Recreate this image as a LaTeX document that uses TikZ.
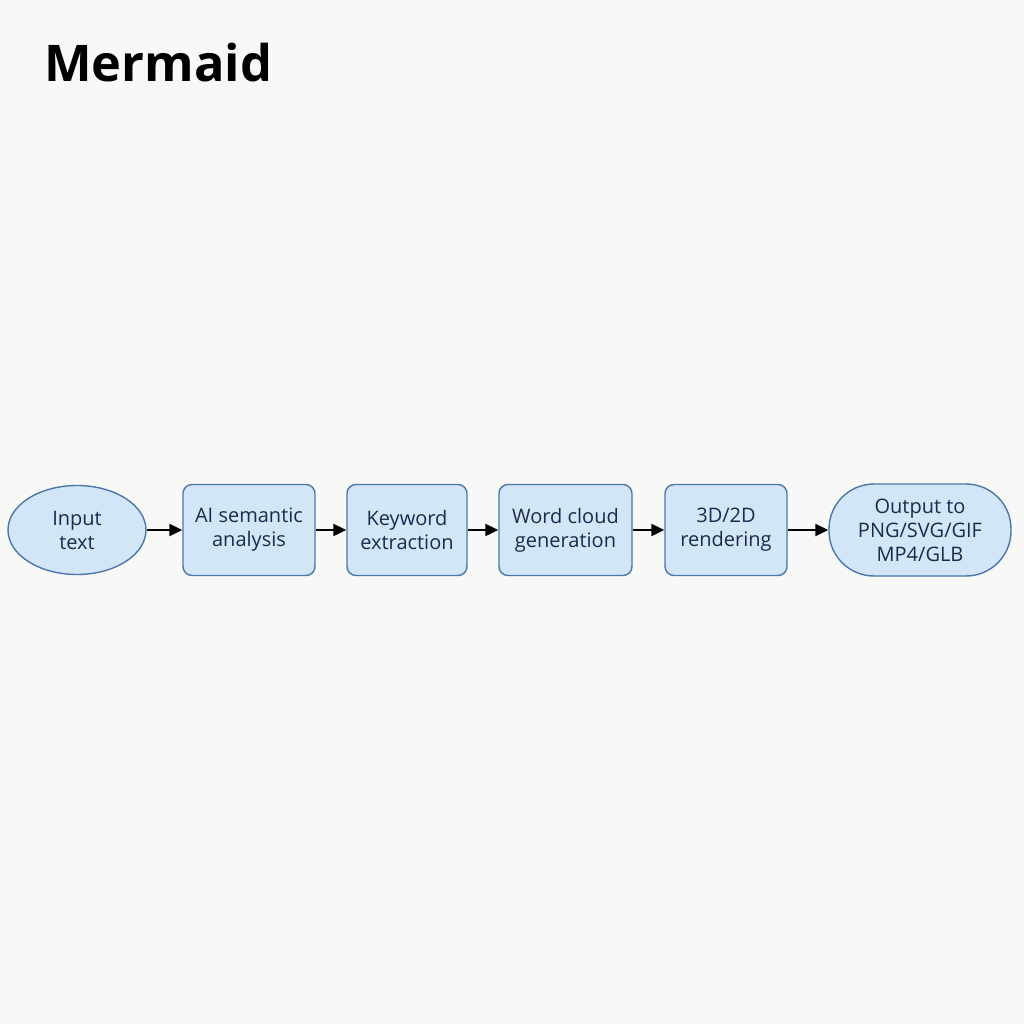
\documentclass[tikz,border=0pt]{standalone}
\usepackage{fontspec}
\setmainfont{Open Sans}
\usetikzlibrary{shapes.geometric,arrows.meta}
\definecolor{bg}{HTML}{F8F8F6}
\definecolor{boxfill}{HTML}{D3E6F7}
\definecolor{boxline}{HTML}{4A78AA}
\definecolor{txt}{HTML}{1B2A4E}
\tikzset{
  base/.style={draw=boxline, fill=boxfill, line width=1.4pt, text=txt, align=center,
    font=\fontsize{20}{24}\selectfont, inner sep=0pt},
  ovalnode/.style={base, ellipse, minimum width=138pt, minimum height=89pt},
  boxnode/.style={base, rectangle, rounded corners=9pt, minimum height=91pt},
  stadium/.style={base, rectangle, rounded corners=45pt, minimum width=182pt, minimum height=92pt},
  flow/.style={-{Triangle[length=13pt,width=12pt]}, line width=2.2pt, black}
}
\begin{document}
\begin{tikzpicture}[x=1pt,y=-1pt]
\fill[bg] (0,0) rectangle (1024,1024);
\useasboundingbox (0,0) rectangle (1024,1024);
\node[anchor=base west, font=\fontsize{50.5}{60}\selectfont\bfseries, text=black, inner sep=0pt] (title) at (44,82) {Mermaid};
\node[ovalnode] (n1) at (77,530) {Input\\text};
\node[boxnode, minimum width=132pt] (n2) at (249,530) {AI semantic\\analysis};
\node[boxnode, minimum width=120pt] (n3) at (407,530) {Keyword\\extraction};
\node[boxnode, minimum width=133pt] (n4) at (565.5,530) {Word cloud\\generation};
\node[boxnode, minimum width=122pt] (n5) at (726,530) {3D/2D\\rendering};
\node[stadium] (n6) at (920,530) {Output to\\PNG/SVG/GIF\\MP4/GLB};
\draw[flow] (n1) -- (n2);
\draw[flow] (n2) -- (n3);
\draw[flow] (n3) -- (n4);
\draw[flow] (n4) -- (n5);
\draw[flow] (n5) -- (n6);
\end{tikzpicture}
\end{document}
